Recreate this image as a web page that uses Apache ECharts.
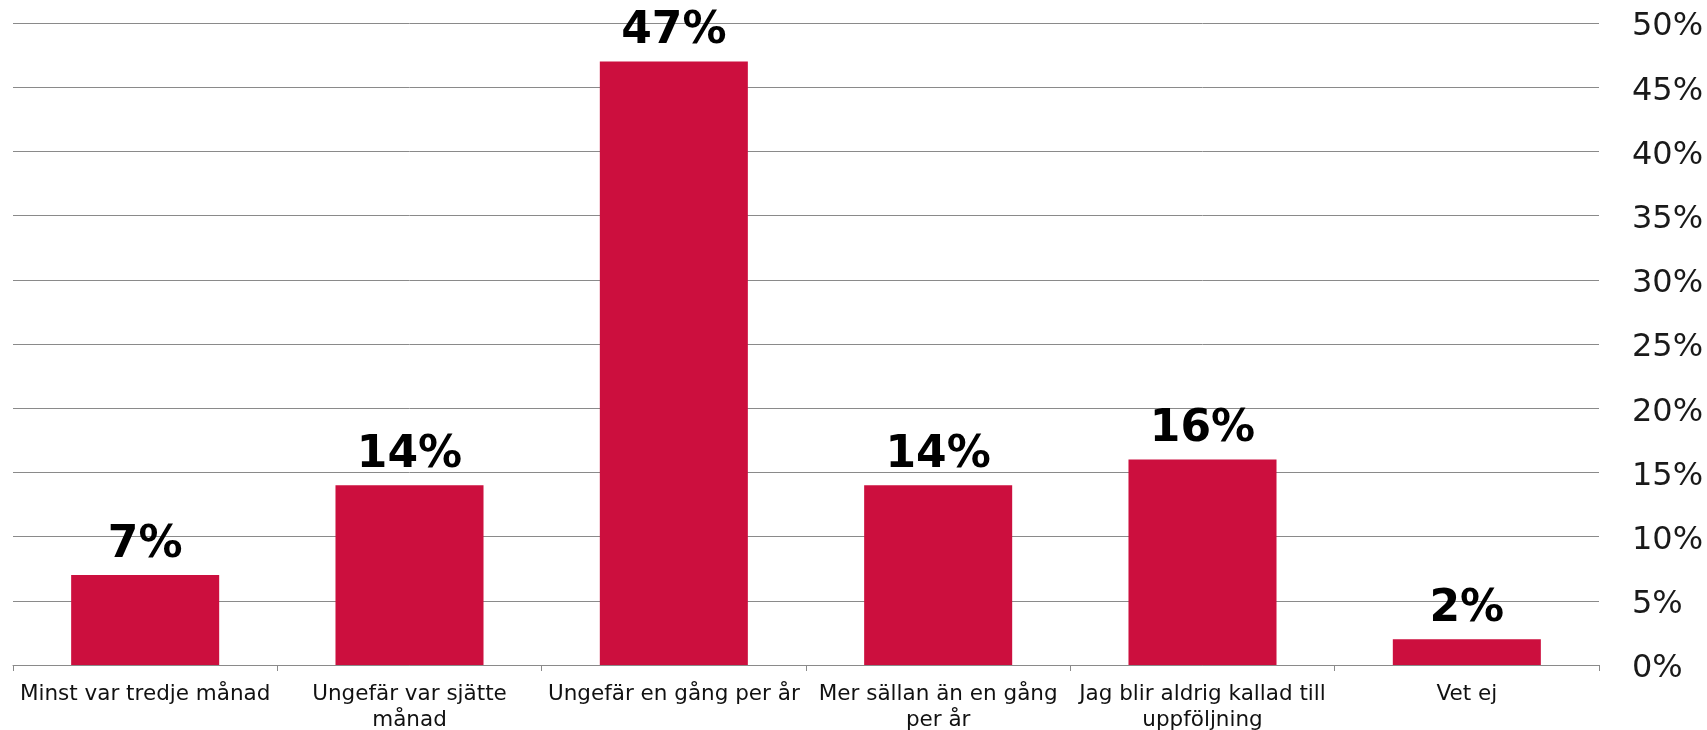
<!DOCTYPE html>
<html>
<head>
<meta charset="utf-8">
<script src="https://cdn.jsdelivr.net/npm/echarts@6/dist/echarts.min.js"></script>
<style>
html,body{margin:0;padding:0;background:#fff;}
#chart{width:1707px;height:730px;}
</style>
</head>
<body>
<div id="chart"></div>
<script>
const categories = [
  "Minst var tredje månad",
  "Ungefär var sjätte\nmånad",
  "Ungefär en gång per år",
  "Mer sällan än en gång\nper år",
  "Jag blir aldrig kallad till\nuppföljning",
  "Vet ej"
];
const values = [7, 14, 47, 14, 16, 2];
const yTicks = { min: 0, max: 50, interval: 5 };

const chart = echarts.init(document.getElementById('chart'));
chart.setOption({
  animation: false,
  backgroundColor: '#ffffff',
  grid: { left: 13, right: 108, top: 23, bottom: 65, containLabel: false, outerBoundsMode: 'none' },
  xAxis: {
    type: 'category',
    data: categories,
    boundaryGap: true,
    axisLine: { show: true, lineStyle: { color: '#8a8a8a', width: 1 } },
    axisTick: { show: true, alignWithLabel: false, length: 6, lineStyle: { color: '#8a8a8a' } },
    axisLabel: {
      interval: 0,
      margin: 16,
      fontFamily: 'DejaVu Sans',
      fontSize: 21.5,
      lineHeight: 26,
      color: '#111111'
    },
    splitLine: { show: false }
  },
  yAxis: {
    type: 'value',
    position: 'right',
    min: yTicks.min,
    max: yTicks.max,
    interval: yTicks.interval,
    axisLine: { show: false },
    axisTick: { show: false },
    axisLabel: {
      margin: 33,
      fontFamily: 'DejaVu Sans',
      fontSize: 32,
      color: '#1a1a1a',
      formatter: v => '{a|' + v + '%}',
      rich: {
        a: { fontFamily: 'DejaVu Sans', fontSize: 32, color: '#1a1a1a', padding: [8, 0, 0, 0] }
      }
    },
    splitLine: { show: true, lineStyle: { color: '#8a8a8a', width: 1 } }
  },
  series: [{
    type: 'bar',
    data: values,
    barWidth: '56%',
    itemStyle: { color: '#CC0F3E' },
    label: {
      show: true,
      position: 'top',
      distance: 8,
      fontFamily: 'DejaVu Sans',
      fontWeight: 'bold',
      fontSize: 44,
      color: '#000000',
      formatter: p => p.value + '%'
    }
  }]
});
</script>
</body>
</html>
